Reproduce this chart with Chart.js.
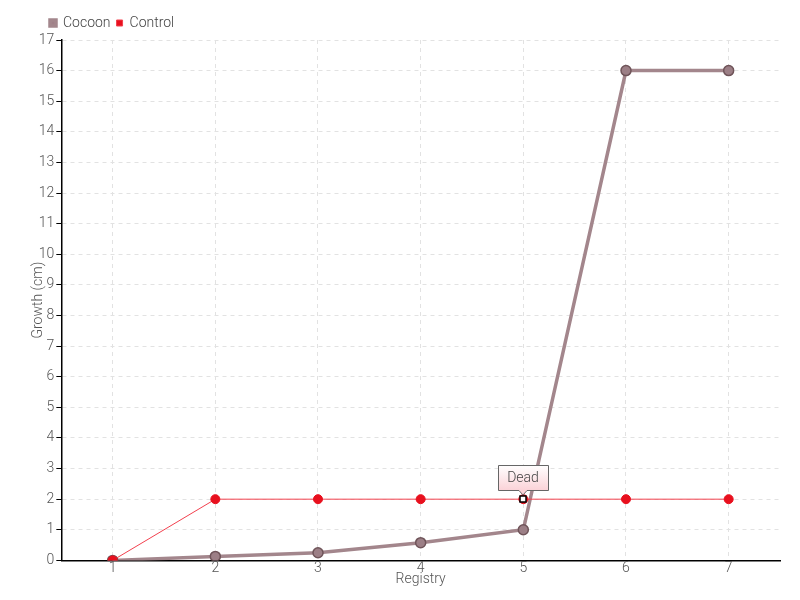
<!doctype html>
<html lang="en">
<head>
<meta charset="utf-8"/>
<title>Growth</title>
<script src="https://cdn.jsdelivr.net/npm/chart.js"></script>
<style>
*{box-sizing:border-box}
html,body{margin:0;background:#fff}
.wrap{width:800px;height:600px;position:relative}
</style>
</head>
<body>
<div class="wrap"><canvas id="c" width="800" height="600"></canvas></div>
<script>
const categories = ['1','2','3','4','5','6','7'];
const cocoon = [0, 0.13, 0.25, 0.58, 1, 16, 16];
const control = [0, 2, 2, 2, 2, 2, 2];
const yTicks = [0,1,2,3,4,5,6,7,8,9,10,11,12,13,14,15,16,17];
const noteIndex = 4;
const noteText = 'Dead';

const FONT = "Roboto,sans-serif";

// little callout box pointing at the control point
const notePlugin = {
  id: 'note',
  afterLayout(chart){
    // nudge the legend right, like the original
    chart.legend.left += 24; chart.legend.right += 24;
  },
  afterDatasetsDraw(chart){
    const {ctx, scales} = chart;
    const x = Math.round(scales.x.getPixelForValue(noteIndex));
    const y = Math.round(scales.y.getPixelForValue(control[noteIndex]));
    ctx.save();
    ctx.font = '300 14px ' + FONT;
    const w = 50, h = 25;
    const bx = x - w/2, by = y - 9 - h;
    const g = ctx.createLinearGradient(0, by, 0, by+h);
    g.addColorStop(0, '#ffffff'); g.addColorStop(1, '#fbd3d8');
    ctx.fillStyle = g; ctx.strokeStyle = '#666'; ctx.lineWidth = 1;
    ctx.beginPath();
    ctx.moveTo(bx+0.5, by+0.5); ctx.lineTo(bx+w+0.5, by+0.5); ctx.lineTo(bx+w+0.5, by+h+0.5);
    ctx.lineTo(x+4, by+h+0.5); ctx.lineTo(x, by+h+5); ctx.lineTo(x-4, by+h+0.5);
    ctx.lineTo(bx+0.5, by+h+0.5); ctx.closePath();
    ctx.fill(); ctx.stroke();
    ctx.fillStyle = '#444'; ctx.textAlign = 'center'; ctx.textBaseline = 'middle';
    ctx.fillText(noteText, x, by + h/2 + 1);
    ctx.fillStyle = '#fff'; ctx.strokeStyle = '#000'; ctx.lineWidth = 1.5;
    ctx.fillRect(x-3, y-3, 6, 6); ctx.strokeRect(x-3, y-3, 6, 6);
    ctx.restore();
  }
};

new Chart(document.getElementById('c'), {
  type: 'line',
  data: {
    labels: categories,
    datasets: [
      { label: 'Cocoon', data: cocoon, order: 1, borderColor: '#a3868c', backgroundColor: '#a08088',
        pointBackgroundColor: '#9c7f86', pointBorderColor: '#6f5459', pointBorderWidth: 1.5,
        borderWidth: 3.5, pointRadius: 5, tension: 0 },
      { label: 'Control', data: control, order: 0, borderColor: '#f2404e', backgroundColor: '#e8101e',
        pointBackgroundColor: '#e8101e', pointBorderColor: '#e8101e',
        borderWidth: 1, pointRadius: 4.5, tension: 0 }
    ]
  },
  options: {
    responsive: false,
    animation: false,
    layout: { padding: { left: 20, right: 20, top: 10, bottom: 12 } },
    plugins: {
      legend: { position: 'top', align: 'start',
        labels: { boxWidth: 6, boxHeight: 6, padding: 6, color: '#444', font: { family: FONT, size: 14, weight: 300 },
          sort: (a, b) => a.datasetIndex - b.datasetIndex } },
      tooltip: { enabled: false }
    },
    scales: {
      x: { offset: true,
        grid: { color: '#e2e2e2', tickLength: 0, drawTicks: false },
        border: { color: '#000', width: 1.5, dash: [4,4] },
        ticks: { color: '#555', font: { family: FONT, size: 14, weight: 300 }, padding: 0 },
        title: { display: true, text: 'Registry', color: '#555', font: { family: FONT, size: 14, weight: 300 }, padding: { top: -6, bottom: 0 } } },
      y: { min: 0, max: 17,
        afterBuildTicks(s){ s.ticks = yTicks.map(v => ({ value: v })); },
        grid: { color: '#e2e2e2', tickLength: 5, tickColor: '#000' },
        border: { color: '#000', width: 1.5, dash: [4,4] },
        ticks: { color: '#555', font: { family: FONT, size: 14, weight: 300 }, padding: 2 },
        title: { display: true, text: 'Growth (cm)', color: '#555', font: { family: FONT, size: 14, weight: 300 }, padding: { top: 10, bottom: -10 } } }
    }
  },
  plugins: [notePlugin]
});
</script>
</body>
</html>
